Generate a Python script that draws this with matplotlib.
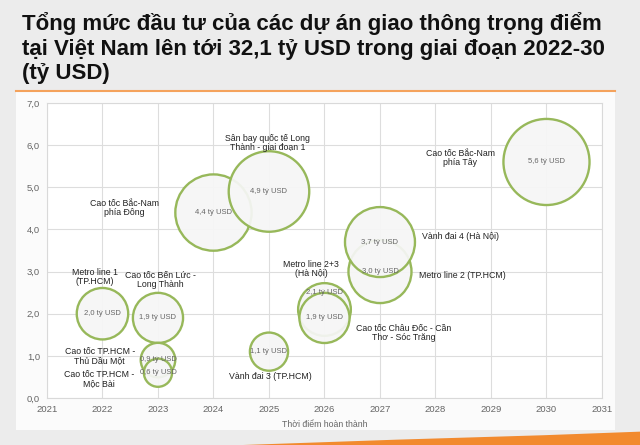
import matplotlib.pyplot as plt
from matplotlib.patches import Rectangle, Polygon

plt.rcParams['font.family'] = ['Liberation Sans', 'DejaVu Sans']

# --------------- data (in drawing order, later bubbles sit on top)
years = [2022, 2023, 2023, 2023, 2024, 2025, 2025, 2026, 2026, 2027, 2027, 2030]
values = [2.0, 1.9, 0.9, 0.6, 4.4, 4.9, 1.1, 2.1, 1.9, 3.0, 3.7, 5.6]
names = ["Metro line 1\n(TP.HCM)",
         "Cao tốc Bến Lức -\nLong Thành",
         "Cao tốc TP.HCM -\nThủ Dầu Một",
         "Cao tốc TP.HCM -\nMộc Bài",
         "Cao tốc Bắc-Nam\nphía Đông",
         "Sân bay quốc tế Long\nThành - giai đoạn 1",
         "Vành đai 3 (TP.HCM)",
         "Metro line 2+3\n(Hà Nội)",
         "Cao tốc Châu Đốc - Cần\nThơ - Sóc Trăng",
         "Metro line 2 (TP.HCM)",
         "Vành đai 4 (Hà Nội)",
         "Cao tốc Bắc-Nam\nphía Tây"]

# where each project name sits (data coords) and its alignment
name_pos = [(2021.86, 2.86, 'center'), (2023.04, 2.8, 'center'),
            (2021.95, 1.0, 'center'), (2021.94, 0.45, 'center'),
            (2022.4, 4.5, 'center'), (2024.98, 6.05, 'center'),
            (2025.02, 0.5, 'center'), (2025.76, 3.05, 'center'),
            (2027.42, 1.55, 'center'), (2027.7, 2.9, 'left'),
            (2027.75, 3.83, 'left'), (2028.45, 5.69, 'center')]
# vertical offset of the value label inside the bubble
value_shift = [0, 0, 0.02, 0, 0, 0, 0, 0.4, 0, 0, 0, 0]

fig = plt.figure(figsize=(6.4, 4.45), dpi=100)
fig.patch.set_facecolor('#ececec')

# white panel behind the chart + orange rule
fig.patches.append(Rectangle((0.025, 0.034), 0.936, 0.762, transform=fig.transFigure,
                             facecolor='#fbfbfb', edgecolor='none', zorder=0))
fig.lines.append(plt.Line2D([0.025, 0.961], [0.796, 0.796], transform=fig.transFigure,
                            color='#f4a25c', linewidth=1.5))
fig.patches.append(Polygon([(0.38, 0.0), (0.62, 0.012), (0.85, 0.022), (1.0, 0.03), (1.0, 0.0)],
                           closed=True, transform=fig.transFigure,
                           facecolor='#f28a2e', edgecolor='none'))

fig.text(0.034, 0.972, "Tổng mức đầu tư của các dự án giao thông trọng điểm\n"
         "tại Việt Nam lên tới 32,1 tỷ USD trong giai đoạn 2022-30\n(tỷ USD)",
         fontsize=16, fontweight='bold', va='top', ha='left', color='#111111',
         linespacing=1.2)

ax = fig.add_axes([0.0734, 0.1056, 0.8672, 0.663])
ax.set_zorder(2)
ax.set_facecolor('white')

ax.scatter(years, values, s=[686 * v for v in values], facecolor=(0.965, 0.965, 0.965, 0.93),
           edgecolor='#97b85a', linewidth=1.7, zorder=3)

for i in range(len(years)):
    ax.text(years[i], values[i] + value_shift[i], f"{values[i]:.1f} tỷ USD".replace('.', ','),
            fontsize=5.5, color='#666666', ha='center', va='center', zorder=4)
    x, y, al = name_pos[i]
    ax.text(x, y, names[i], fontsize=6.3, color='#222222', ha=al, va='center',
            linespacing=1.0, zorder=4)

ax.set_xlim(2021, 2031)
ax.set_ylim(0, 7)
ax.set_xticks(range(2021, 2032))
ax.set_yticks(range(0, 8))
ax.set_yticklabels([f"{v},0" for v in range(0, 8)])
ax.tick_params(labelsize=6.8, colors='#666666', length=0, pad=5)
ax.grid(True, color='#dddddd', linewidth=0.8)
ax.set_axisbelow(True)
for s in ax.spines.values():
    s.set_color('#d9d9d9')
ax.set_xlabel('Thời điểm hoàn thành', fontsize=6.3, color='#666666', labelpad=4)

plt.savefig('out.png', dpi=100)
